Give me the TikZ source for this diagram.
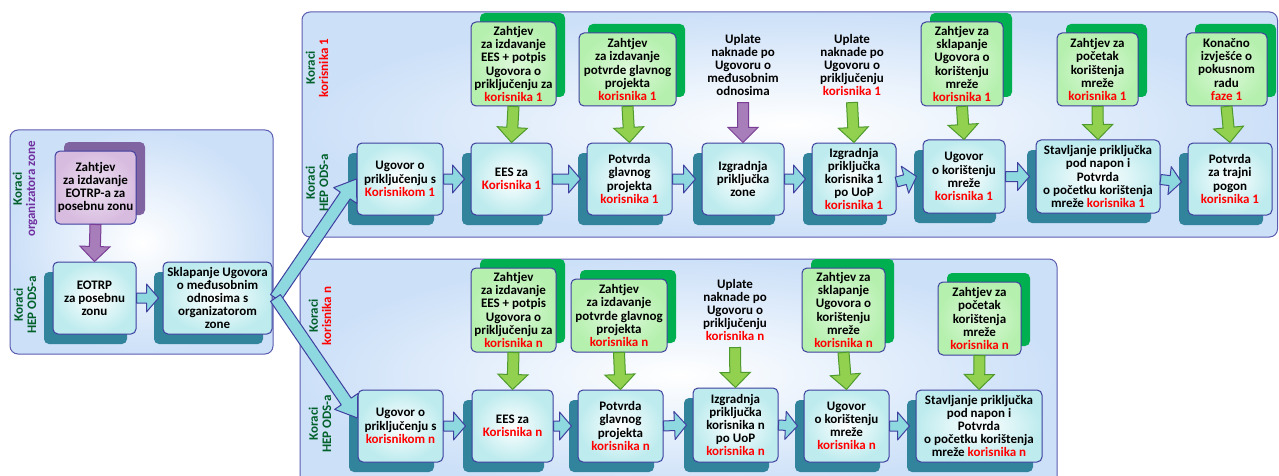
\documentclass[tikz,border=0pt]{standalone}
\usepackage{fontspec}
\setmainfont{Carlito}
\usetikzlibrary{calc,shadows}

\definecolor{boxline}{HTML}{3F3F9F}
\definecolor{panelline}{HTML}{5C5CB0}
\definecolor{panelfill}{HTML}{CCE0F8}
\definecolor{opfill}{HTML}{BDEBEE}
\definecolor{opshadow}{HTML}{31849B}
\definecolor{reqfill}{HTML}{B5F0AE}
\definecolor{reqshadow}{HTML}{00B050}
\definecolor{purfill}{HTML}{D8BCE0}
\definecolor{purshadow}{HTML}{8064A2}
\definecolor{cyanarrow}{HTML}{8ED8E0}
\definecolor{greenarrow}{HTML}{92D050}
\definecolor{greenline}{HTML}{4F9A2C}
\definecolor{purarrow}{HTML}{A77DBA}
\definecolor{purline}{HTML}{7A3E96}
\definecolor{stepgreen}{HTML}{00602A}
\definecolor{steppurple}{HTML}{7030A0}

\newcommand{\rd}[1]{\textcolor{red}{#1}}
\newcommand{\blockarrow}[6][]{%
  \coordinate (ba) at (#2);
  \coordinate (bb) at (#3);
  \coordinate (bh) at ($(bb)!#4!(ba)$);
  \draw[#1] ($(ba)!#5!90:(bb)$) -- ($(bh)!#5!90:(bb)$) -- ($(bh)!#6!90:(bb)$) -- (bb)
    -- ($(bh)!#6!-90:(bb)$) -- ($(bh)!#5!-90:(bb)$) -- ($(ba)!#5!-90:(bb)$) -- cycle;
}
\newcommand{\cyanflow}[2]{\blockarrow[cyanarr]{#1}{#2}{12pt}{5pt}{14pt}}
\newcommand{\greenflow}[2]{\blockarrow[greenarr]{#1}{#2}{15pt}{5.5pt}{15pt}}
\newcommand{\purflow}[2]{\blockarrow[purarr]{#1}{#2}{15pt}{5.5pt}{15pt}}

\begin{document}
\begin{tikzpicture}[x=1pt, y=-1pt,
    txt/.style={align=center, font=\fontsize{13}{13.2}\selectfont\bfseries},
    wh/.style 2 args={minimum width=#1pt, minimum height=#2pt},
    panel/.style={draw=panelline, line width=1pt, rounded corners=8pt, inner color=white, outer color=panelfill},
    box/.style={txt, draw=boxline, line width=1pt, rounded corners=5pt, inner sep=1pt},
    opbox/.style={box, inner color=white, outer color=opfill,
      general shadow={fill=opshadow, shadow xshift=-9pt, shadow yshift=-10pt}},
    reqbox/.style={box, inner color=white!55!reqfill, outer color=reqfill,
      general shadow={fill=reqshadow, shadow xshift=9pt, shadow yshift=9pt}},
    purbox/.style={box, inner color=white!55!purfill, outer color=purfill,
      general shadow={fill=purshadow, shadow xshift=9pt, shadow yshift=9pt}},
    steplabel/.style={txt, rotate=90},
    cyanarr/.style={draw=boxline, fill=cyanarrow, line width=1pt, line join=round},
    greenarr/.style={draw=greenline, fill=greenarrow, line width=1pt},
    purarr/.style={draw=purline, fill=purarrow, line width=1pt}]
  \useasboundingbox (0,0) rectangle (1279,476);

  % panels
  \draw[panel] (10,130) rectangle (273,354);
  \draw[panel] (302,12) rectangle (1277.5,237);
  \draw[panel] (300,259) rectangle (1057,490);

  % organizator zone
  \node[steplabel] (kz) at (25,189) {\textcolor{stepgreen}{Koraci}\\\textcolor{steppurple}{organizatora zone}};
  \node[steplabel] (kzo) at (25,305) {\textcolor{stepgreen}{Koraci}\\\textcolor{stepgreen}{HEP ODS-a}};
  \node[purbox, wh={81}{73}] (P) at (95.5,187.5) {Zahtjev\\za izdavanje\\EOTRP-a za\\posebnu zonu};
  \node[opbox, wh={83}{72}] (E) at (94.5,298) {EOTRP\\za posebnu\\zonu};
  \node[opbox, wh={109}{72}] (S) at (217.5,298) {Sklapanje Ugovora\\o međusobnim\\odnosima s\\organizatorom\\zone};

  % korisnik 1
  \node[steplabel] (k1) at (317,68) {\textcolor{stepgreen}{Koraci}\\\rd{korisnika 1}};
  \node[steplabel] (k1o) at (317,183) {\textcolor{stepgreen}{Koraci}\\\textcolor{stepgreen}{HEP ODS-a}};
  \node[reqbox, wh={85}{84}] (R1) at (513.5,64) {Zahtjev\\za izdavanje\\EES + potpis\\Ugovora o\\priključenju za\\\rd{korisnika 1}};
  \node[reqbox, wh={97}{73}] (R2) at (627.5,69.5) {Zahtjev\\za izdavanje\\potvrde glavnog\\projekta\\\rd{korisnika 1}};
  \node[txt] (U1) at (743,65) {Uplate\\naknade po\\Ugovoru o\\međusobnim\\odnosima};
  \node[txt] (U2) at (852,65) {Uplate\\naknade po\\Ugovoru o\\priključenju\\\rd{korisnika 1}};
  \node[reqbox, wh={82}{84}] (R5) at (962,64) {Zahtjev za\\sklapanje\\Ugovora o\\korištenju\\mreže\\\rd{korisnika 1}};
  \node[reqbox, wh={81}{73}] (R6) at (1097.5,69.5) {Zahtjev za\\početak\\korištenja\\mreže\\\rd{korisnika 1}};
  \node[reqbox, wh={81}{73}] (R7) at (1226.5,69.5) {Konačno\\izvješće o\\pokusnom\\radu\\\rd{faze 1}};

  \node[opbox, wh={86}{72}] (T1) at (400,179) {Ugovor o\\priključenju s\\\rd{Korisnikom 1}};
  \node[opbox, wh={81}{72}] (T2) at (511.5,179) {EES za\\\rd{Korisnika 1}};
  \node[opbox, wh={85}{72}] (T3) at (629.5,179) {Potvrda\\glavnog\\projekta\\\rd{korisnika 1}};
  \node[opbox, wh={82}{72}] (T4) at (743,179) {Izgradnja\\priključka\\zone};
  \node[opbox, wh={84}{72}] (T5) at (854,179) {Izgradnja\\priključka\\korisnika 1\\po UoP\\\rd{korisnika 1}};
  \node[opbox, wh={82}{73}] (T6) at (964,176.5) {Ugovor\\o korištenju\\mreže\\\rd{korisnika 1}};
  \node[opbox, wh={124}{73}] (T7) at (1098,176.5) {Stavljanje priključka\\pod napon i\\Potvrda\\o početku korištenja\\mreže \rd{korisnika 1}};
  \node[opbox, wh={84}{72}] (T8) at (1230,179) {Potvrda\\za trajni\\pogon\\\rd{korisnika 1}};

  % korisnik n
  \node[steplabel] (kn) at (320,316) {\textcolor{stepgreen}{Koraci}\\\rd{korisnika n}};
  \node[steplabel] (kno) at (320,424) {\textcolor{stepgreen}{Koraci}\\\textcolor{stepgreen}{HEP ODS-a}};
  \node[reqbox, wh={85}{84}] (Q1) at (513.5,310) {Zahtjev\\za izdavanje\\EES + potpis\\Ugovora o\\priključenju za\\\rd{korisnika n}};
  \node[reqbox, wh={96}{73}] (Q2) at (619,315.5) {Zahtjev\\za izdavanje\\potvrde glavnog\\projekta\\\rd{korisnika n}};
  \node[txt] (U3) at (735,310) {Uplate\\naknade po\\Ugovoru o\\priključenju\\\rd{korisnika n}};
  \node[reqbox, wh={83}{84}] (Q4) at (843.5,310) {Zahtjev za\\sklapanje\\Ugovora o\\korištenju\\mreže\\\rd{korisnika n}};
  \node[reqbox, wh={83}{73}] (Q5) at (979.5,318.5) {Zahtjev za\\početak\\korištenja\\mreže\\\rd{korisnika n}};

  \node[opbox, wh={85}{72}] (B1) at (400.5,426) {Ugovor o\\priključenju s\\\rd{korisnikom n}};
  \node[opbox, wh={81}{72}] (B2) at (512.5,426) {EES za\\\rd{Korisnika n}};
  \node[opbox, wh={85}{72}] (B3) at (620.5,426) {Potvrda\\glavnog\\projekta\\\rd{korisnika n}};
  \node[opbox, wh={85}{74}] (B4) at (735.5,425) {Izgradnja\\priključka\\korisnika n\\po UoP\\\rd{korisnika n}};
  \node[opbox, wh={85}{72}] (B5) at (846.5,426) {Ugovor\\o korištenju\\mreže\\\rd{korisnika n}};
  \node[opbox, wh={126}{72}] (B6) at (979,426) {Stavljanje priključka\\pod napon i\\Potvrda\\o početku korištenja\\mreže \rd{korisnika n}};

  % arrows
  \purflow{P.south}{E.north}
  \cyanflow{E.east}{[xshift=-4pt]S.west}
  \coordinate (split) at ([xshift=3pt]S.east);
  \blockarrow[cyanarr]{split}{T1.west}{20pt}{6pt}{14pt}
  \blockarrow[cyanarr]{split}{[yshift=8pt]B1.west}{20pt}{6pt}{14pt}

  \cyanflow{T1.east}{[xshift=-6pt]T2.west}
  \cyanflow{T2.east}{[xshift=-6pt]T3.west}
  \cyanflow{T3.east}{[xshift=-6pt]T4.west}
  \cyanflow{T4.east}{[xshift=-6pt]T5.west}
  \cyanflow{[yshift=-3pt]T5.east}{[xshift=-6pt]T6.west}
  \cyanflow{T6.east}{[xshift=-6pt]T7.west}
  \cyanflow{[yshift=-3pt]T7.east}{[xshift=-6pt,yshift=-3pt]T8.west}
  \greenflow{R1.south}{T2.north}
  \greenflow{R2.south}{T3.north}
  \purflow{[yshift=-3pt]U1.south}{T4.north}
  \greenflow{[yshift=-3pt]U2.south}{T5.north}
  \greenflow{R5.south}{T6.north}
  \greenflow{R6.south}{T7.north}
  \greenflow{R7.south}{T8.north}

  \cyanflow{B1.east}{[xshift=-6pt]B2.west}
  \cyanflow{B2.east}{[xshift=-6pt]B3.west}
  \cyanflow{B3.east}{[xshift=-6pt]B4.west}
  \cyanflow{B4.east}{[xshift=-6pt]B5.west}
  \cyanflow{B5.east}{[xshift=-6pt]B6.west}
  \greenflow{Q1.south}{B2.north}
  \greenflow{Q2.south}{B3.north}
  \greenflow{[yshift=-3pt]U3.south}{B4.north}
  \greenflow{Q4.south}{B5.north}
  \greenflow{Q5.south}{B6.north}
\end{tikzpicture}
\end{document}
